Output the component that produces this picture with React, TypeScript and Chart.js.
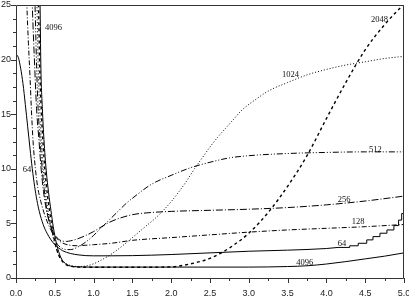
import { useEffect, useRef } from 'react';
import { Chart, registerables } from 'chart.js';

Chart.register(...registerables);

// Curves: x positions and values for each size
const x64 = [0, 0.03, 0.06, 0.09, 0.12, 0.15, 0.18, 0.21, 0.24, 0.27, 0.3, 0.35, 0.4, 0.45, 0.5, 0.55, 0.6, 0.7, 0.8, 0.9, 1.0, 1.5, 2.0, 2.5, 3.0, 3.5, 4.0, 4.15];
const y64 = [20.5, 20.2, 19.2, 17.8, 15.9, 13.9, 11.9, 10.0, 8.4, 7.1, 6.1, 4.9, 4.1, 3.5, 3.05, 2.75, 2.5, 2.25, 2.12, 2.05, 2.03, 2.05, 2.15, 2.3, 2.45, 2.55, 2.7, 2.8];

// staircase tail of the 64 curve
const x64Steps = [4.15, 4.3, 4.41, 4.52, 4.6, 4.69, 4.78, 4.87, 4.93, 4.97, 5.0];
const y64Steps = [2.8, 2.95, 3.18, 3.49, 3.79, 4.1, 4.4, 4.8, 5.3, 5.9, 5.9];

const x128 = [0.12, 0.14, 0.16, 0.18, 0.2, 0.22, 0.25, 0.28, 0.32, 0.36, 0.4, 0.45, 0.5, 0.55, 0.6, 0.7, 0.8, 0.9, 1.0, 1.25, 1.5, 2.0, 2.5, 3.0, 3.5, 4.0, 4.5, 5.0];
const y128 = [30, 25, 21.5, 18.5, 15.2, 12.5, 10.0, 8.3, 7.0, 6.0, 5.2, 4.4, 3.85, 3.45, 3.2, 3.0, 2.95, 3.0, 3.05, 3.2, 3.45, 3.7, 3.95, 4.2, 4.4, 4.55, 4.7, 4.9];

const x256 = [0.19, 0.21, 0.24, 0.265, 0.295, 0.325, 0.355, 0.39, 0.42, 0.45, 0.5, 0.55, 0.6, 0.65, 0.7, 0.8, 0.9, 1.0, 1.15, 1.25, 1.5, 1.75, 2.0, 2.5, 3.0, 3.5, 4.0, 4.5, 5.0];
const y256 = [30, 25, 19.5, 15.5, 12.7, 9.9, 7.9, 6.3, 5.4, 4.7, 3.95, 3.55, 3.38, 3.35, 3.4, 3.6, 3.9, 4.25, 4.9, 5.25, 5.8, 6.0, 6.1, 6.2, 6.3, 6.45, 6.7, 7.05, 7.5];

const x512 = [0.22, 0.245, 0.265, 0.285, 0.31, 0.34, 0.37, 0.4, 0.42, 0.45, 0.5, 0.55, 0.6, 0.65, 0.7, 0.8, 0.9, 1.0, 1.1, 1.2, 1.3, 1.4, 1.5, 1.75, 2.0, 2.25, 2.5, 2.75, 3.0, 3.5, 4.0, 4.5, 5.0];
const y512 = [30, 25, 19.5, 15.5, 12.7, 9.8, 7.7, 6.1, 5.4, 4.6, 3.5, 2.95, 2.7, 2.6, 2.6, 2.85, 3.3, 3.9, 4.6, 5.3, 6.0, 6.7, 7.3, 8.6, 9.4, 10.1, 10.6, 11.0, 11.2, 11.4, 11.5, 11.55, 11.55];

const x1024 = [0.245, 0.27, 0.285, 0.305, 0.325, 0.355, 0.385, 0.415, 0.44, 0.47, 0.5, 0.55, 0.6, 0.65, 0.7, 0.8, 0.9, 1.0, 1.1, 1.2, 1.3, 1.4, 1.5, 1.6, 1.7, 1.8, 1.9, 2.0, 2.1, 2.2, 2.3, 2.4, 2.5, 2.6, 2.7, 2.8, 2.9, 3.0, 3.1, 3.2, 3.3, 3.5, 3.75, 4.0, 4.25, 4.5, 4.75, 5.0];
const y1024 = [30, 25, 19.5, 15.5, 12.7, 9.7, 7.6, 6.0, 5.0, 4.0, 3.1, 2.1, 1.6, 1.3, 1.15, 1.05, 1.1, 1.3, 1.65, 2.05, 2.55, 3.1, 3.7, 4.3, 4.9, 5.5, 6.2, 7.0, 7.9, 8.9, 10.0, 11.0, 12.0, 12.9, 13.7, 14.5, 15.3, 15.9, 16.4, 16.9, 17.3, 17.9, 18.6, 19.1, 19.5, 19.8, 20.1, 20.3];

const x2048 = [0.265, 0.29, 0.305, 0.325, 0.345, 0.375, 0.405, 0.435, 0.46, 0.5, 0.55, 0.6, 0.65, 0.7, 0.8, 1.0, 1.5, 2.0, 2.25, 2.5, 2.75, 3.0, 3.25, 3.5, 3.75, 4.0, 4.25, 4.5, 4.75, 5.0];
const y2048 = [30, 25, 19.5, 15.5, 12.7, 9.7, 7.6, 6.0, 4.9, 3.3, 2.1, 1.5, 1.2, 1.08, 1.0, 0.98, 0.98, 1.02, 1.3, 1.8, 2.75, 4.1, 6.0, 8.4, 11.2, 14.6, 17.9, 20.9, 23.2, 25.1];

const x4096 = [0.285, 0.31, 0.32, 0.34, 0.36, 0.39, 0.42, 0.45, 0.48, 0.52, 0.56, 0.6, 0.65, 0.7, 0.8, 1.0, 2.0, 3.0, 3.5, 3.75, 4.0, 4.25, 4.5, 4.75, 5.0];
const y4096 = [30, 25, 19.5, 15.5, 12.7, 9.8, 7.8, 6.2, 4.7, 3.2, 2.2, 1.6, 1.25, 1.1, 1.02, 1.0, 1.0, 1.0, 1.05, 1.12, 1.28, 1.5, 1.75, 2.0, 2.3];

// Curve captions and where they sit (data units)
const captionText = ['4096', '64', '1024', '2048', '512', '256', '128', '64', '4096'];
const captionX = [0.483, 0.142, 3.537, 4.684, 4.63, 4.23, 4.41, 4.2, 3.72];
const captionY = [22.9, 9.94, 18.59, 23.67, 11.72, 7.14, 5.17, 3.11, 1.37];

const xTickLabels = ['0.0', '0.5', '1.0', '1.5', '2.0', '2.5', '3.0', '3.5', '4.0', '4.5', '5.0'];
const yTickLabels = ['0', '5', '10', '15', '20', '25'];

const pts = (xs: number[], ys: number[]) => xs.map((x, i) => ({ x, y: ys[i] }));

const line = (xs: number[], ys: number[], dash: number[], width = 1) => ({
  data: pts(xs, ys),
  borderColor: '#000',
  borderWidth: width,
  borderDash: dash,
  pointRadius: 0,
  fill: false,
  cubicInterpolationMode: 'monotone' as const,
});

const framePlugin = {
  id: 'frameTicks',
  afterDraw(chart: any) {
    const { ctx, chartArea: a, scales } = chart;
    const xs = scales.x;
    const ys = scales.y;
    ctx.save();
    ctx.strokeStyle = '#333';
    ctx.lineWidth = 1;
    ctx.beginPath();
    ctx.rect(a.left + 0.5, a.top + 0.5, a.right - a.left - 1, a.bottom - a.top);
    ctx.stroke();
    ctx.beginPath();
    for (let i = 0; i <= 20; i++) {
      const px = Math.round(xs.getPixelForValue(i * 0.25)) + 0.5;
      const len = i % 2 === 0 ? 5 : 3;
      ctx.moveTo(px, a.bottom);
      ctx.lineTo(px, a.bottom + len);
    }
    for (let i = 0; i <= 20; i++) {
      const py = Math.round(ys.getPixelForValue(i * 1.25)) + 0.5;
      const len = i % 4 === 0 ? 5 : 3;
      ctx.moveTo(a.left, py);
      ctx.lineTo(a.left - len, py);
    }
    ctx.stroke();
    ctx.restore();
  },
  afterDatasetsDraw(chart: any) {
    const { ctx, scales } = chart;
    ctx.save();
    ctx.fillStyle = '#111';
    ctx.font = '8.5px "Liberation Serif", "DejaVu Serif", serif';
    ctx.textAlign = 'center';
    ctx.textBaseline = 'middle';
    captionText.forEach((t, i) => {
      ctx.fillText(t, scales.x.getPixelForValue(captionX[i]), scales.y.getPixelForValue(captionY[i]));
    });
    ctx.restore();
  },
};

export default function App() {
  const ref = useRef<HTMLCanvasElement>(null);

  useEffect(() => {
    if (!ref.current) return;
    const tickFont = { family: '"Liberation Sans", Arial, sans-serif', size: 9 };
    const chart = new Chart(ref.current, {
      type: 'line',
      data: {
        datasets: [
          line(x64, y64, []),
          { ...line(x64Steps, y64Steps, []), stepped: true, cubicInterpolationMode: 'default' as const },
          line(x128, y128, [5, 2, 1, 2]),
          line(x256, y256, [7, 2, 1, 2]),
          line(x512, y512, [6, 2, 1, 2, 1, 2]),
          line(x1024, y1024, [1, 2]),
          line(x2048, y2048, [3, 3], 1.4),
          line(x4096, y4096, []),
        ] as any,
      },
      options: {
        responsive: false,
        animation: false,
        devicePixelRatio: 1,
        layout: { padding: { top: 5, right: 5, left: 0, bottom: 0 } },
        plugins: { legend: { display: false }, tooltip: { enabled: false } },
        scales: {
          x: {
            type: 'linear',
            min: 0,
            max: 5,
            grid: { display: false, drawTicks: false },
            border: { display: false },
            ticks: {
              stepSize: 0.5,
              padding: 10,
              maxRotation: 0,
              autoSkip: false,
              color: '#222',
              font: tickFont,
              callback: (v: any) => xTickLabels[Math.round(Number(v) / 0.5)] ?? '',
            },
            afterFit: (s: any) => {
              s.height = 24;
              s.paddingLeft = 0;
              s.paddingRight = 0;
            },
          },
          y: {
            type: 'linear',
            min: 0,
            max: 25,
            grid: { display: false, drawTicks: false },
            border: { display: false },
            ticks: {
              stepSize: 5,
              padding: 5,
              color: '#222',
              font: tickFont,
              callback: (v: any) => yTickLabels[Math.round(Number(v) / 5)] ?? '',
            },
            afterFit: (s: any) => {
              s.width = 16;
              s.paddingTop = 0;
              s.paddingBottom = 0;
            },
          },
        },
      },
      plugins: [framePlugin],
    });
    return () => chart.destroy();
  }, []);

  return (
    <div style={{ position: 'absolute', left: 0, top: 0, width: 409, height: 302, background: '#fff' }}>
      <canvas ref={ref} width={409} height={302} style={{ display: 'block' }} />
    </div>
  );
}
